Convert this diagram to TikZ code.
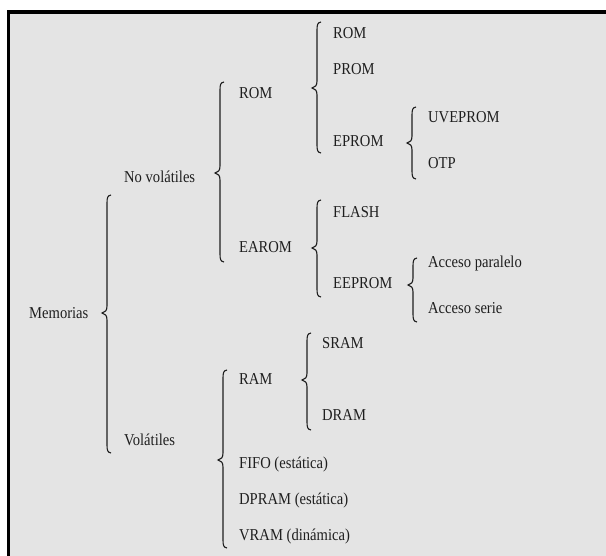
\documentclass[tikz,border=0pt]{standalone}
\usepackage{fontspec}
\usepackage{graphicx}
\setmainfont{Liberation Serif}
\definecolor{panel}{HTML}{E4E4E4}
\definecolor{ink}{HTML}{1E1E1E}
\newcommand{\tallt}[1]{\scalebox{1}[1.14]{#1}}
\begin{document}
\begin{tikzpicture}[x=1bp,y=-1bp,
  lbl/.style={anchor=base west,inner sep=0pt,text=ink,font=\fontsize{14.6bp}{17bp}\selectfont},
  bracestyle/.style={draw=ink,line width=1.1bp}]
\useasboundingbox (0,0) rectangle (606,556);
\fill[white] (0,0) rectangle (606,556);
\fill[panel] (8.5,12) rectangle (610,560);
\draw[black,line width=3.6bp] (8.5,565) -- (8.5,12) -- (610,12);
% brace macro: #1 x, #2 top, #3 tip, #4 bottom
\newcommand{\mybrace}[4]{%
  \draw[bracestyle] (#1+4,#2) .. controls (#1+0.5,#2+0.5) and (#1,#2+3) .. (#1,#2+8)
    -- (#1,#3-7) .. controls (#1,#3-2) and (#1-2,#3-1) .. (#1-5,#3)
    .. controls (#1-2,#3+1) and (#1,#3+2) .. (#1,#3+7)
    -- (#1,#4-8) .. controls (#1,#4-3) and (#1+0.5,#4-0.5) .. (#1+4,#4);}
% labels (baseline = visual center + 5.5)
\node[lbl] (mem) at (29,318.5) {\tallt{Memorias}};
\node[lbl] (nov) at (124,182.5) {\tallt{No volátiles}};
\node[lbl] (vol) at (124,445.5) {\tallt{Volátiles}};
\node[lbl] (rom) at (239,98.5) {\tallt{ROM}};
\node[lbl] (earom) at (239,252.5) {\tallt{EAROM}};
\node[lbl] (ram) at (239,384.5) {\tallt{RAM}};
\node[lbl] (fifo) at (239,468.5) {\tallt{FIFO (estática)}};
\node[lbl] (dpram) at (239,504.5) {\tallt{DPRAM (estática)}};
\node[lbl] (vram) at (239,540.5) {\tallt{VRAM (dinámica)}};
\node[lbl] (rom2) at (333,38.5) {\tallt{ROM}};
\node[lbl] (prom) at (333,74.5) {\tallt{PROM}};
\node[lbl] (eprom) at (333,146.5) {\tallt{EPROM}};
\node[lbl] (flash) at (333,217.5) {\tallt{FLASH}};
\node[lbl] (eeprom) at (333,288.5) {\tallt{EEPROM}};
\node[lbl] (uve) at (428,122.5) {\tallt{UVEPROM}};
\node[lbl] (otp) at (428,168.5) {\tallt{OTP}};
\node[lbl] (apar) at (428,267.5) {\tallt{Acceso paralelo}};
\node[lbl] (aser) at (428,313.5) {\tallt{Acceso serie}};
\node[lbl] (sram) at (322,348.5) {\tallt{SRAM}};
\node[lbl] (dram) at (322,420.5) {\tallt{DRAM}};
% braces
\mybrace{107}{195}{313}{453}
\mybrace{220}{82}{173}{262}
\mybrace{223}{370}{460}{548}
\mybrace{317}{22}{88}{153}
\mybrace{317}{200}{248}{297}
\mybrace{307}{333}{380}{430}
\mybrace{412}{107}{143}{179}
\mybrace{413}{258}{285}{322}
\end{tikzpicture}
\end{document}
